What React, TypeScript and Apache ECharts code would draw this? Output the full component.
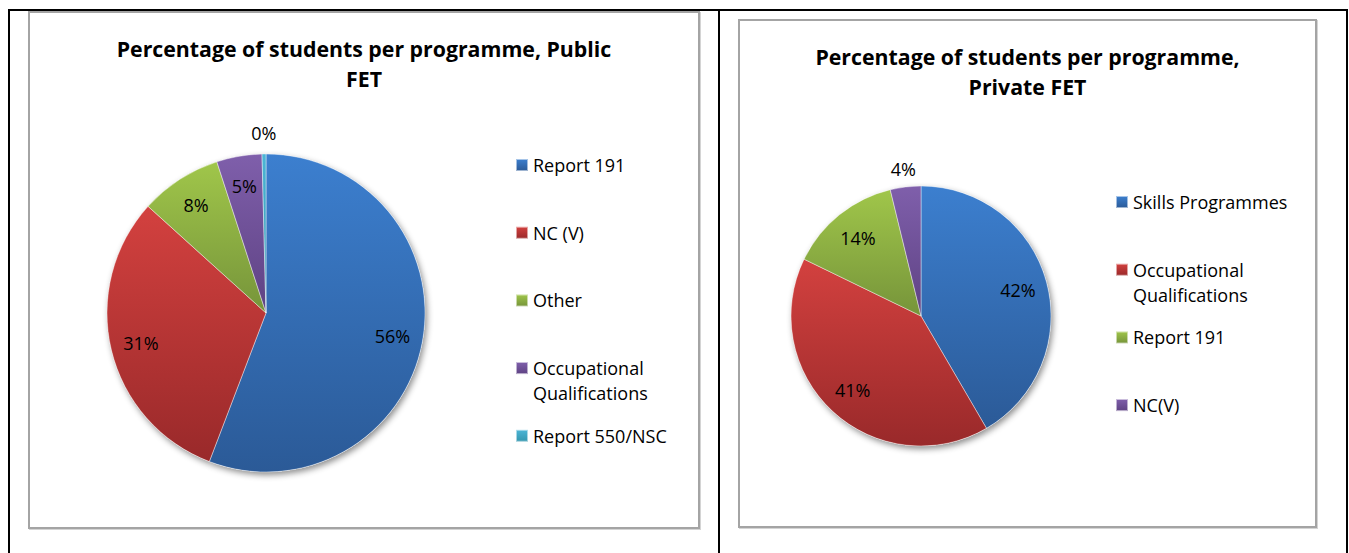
import { useEffect, useRef } from 'react';
import * as echarts from 'echarts';

// ---------- data ----------
const publicTitle = 'Percentage of students per programme, Public\nFET';
const publicCategories = ['Report 191', 'NC (V)', 'Other', 'Occupational\nQualifications', 'Report 550/NSC'];
const publicValues = [55.8, 30.9, 8.3, 4.6, 0.4];
const publicLabelOutside = [false, false, false, false, true];

const privateTitle = 'Percentage of students per programme,\nPrivate FET';
const privateCategories = ['Skills Programmes', 'Occupational\nQualifications', 'Report 191', 'NC(V)'];
const privateValues = [41.6, 40.6, 14.0, 3.8];
const privateLabelOutside = [false, false, false, true];

// ---------- styles ----------
const gradientPairs: [string, string][] = [
  ['#3C7FCF', '#2B5A97'],
  ['#D3413F', '#99292A'],
  ['#A0C64A', '#76943A'],
  ['#7F5FAB', '#5E4283'],
  ['#4CB5D6', '#3396AE'],
];
const FONT = '"Open Sans", Lato, sans-serif';
const LEGEND_LINE = 25;

type Cfg = {
  title: string;
  names: string[];
  values: number[];
  outside: boolean[];
  center: [number, number];
  radius: number;
  innerRatio: number;
  outerRatio: number;
  legendLeft: number;
  legendFirstCenter: number;
  legendSlot: number;
};

function grad(i: number) {
  const [a, b] = gradientPairs[i % gradientPairs.length];
  return new echarts.graphic.LinearGradient(0, 0, 0, 1, [
    { offset: 0, color: a },
    { offset: 1, color: b },
  ]);
}

function buildOption(c: Cfg): any {
  const fmt = (p: any) => Math.round(p.value) + '%';
  const labelText = { fontFamily: FONT, fontSize: 18, color: '#000' };
  const base = {
    type: 'pie',
    center: c.center,
    startAngle: 90,
    clockwise: true,
    avoidLabelOverlap: false,
    labelLine: { show: false },
    emphasis: { disabled: true },
  };
  // one legend block per entry; a wrapped entry gets blank lines in front so that
  // its marker (centred on the text block) sits beside its first line
  const legends = c.names.map((n, i) => {
    const lines = n.split('\n').length;
    const boxH = (2 * lines - 1) * LEGEND_LINE;
    return {
      orient: 'vertical',
      left: c.legendLeft,
      top: c.legendFirstCenter + i * c.legendSlot - boxH / 2,
      padding: 0,
      itemWidth: 12,
      itemHeight: 12,
      icon: 'rect',
      selectedMode: false,
      data: [{ name: n }],
      formatter: (name: string) => '\n'.repeat(name.split('\n').length - 1) + name,
      textStyle: {
        fontFamily: FONT,
        fontSize: 18,
        color: '#000',
        lineHeight: LEGEND_LINE,
      },
    };
  });
  return {
    animation: false,
    title: {
      text: c.title,
      left: 'center',
      top: 22,
      padding: 0,
      textStyle: { fontFamily: FONT, fontSize: 21.3, fontWeight: 'bold', color: '#000', lineHeight: 30 },
    },
    legend: legends,
    series: [
      {
        ...base,
        name: 'main',
        z: 2,
        radius: c.radius,
        label: { show: false },
        data: c.names.map((n, i) => ({
          name: n,
          value: c.values[i],
          itemStyle: { color: grad(i), borderColor: 'rgba(255,255,255,0.55)', borderWidth: 0.75 },
        })),
      },
      {
        ...base,
        name: 'shadow',
        z: 1,
        silent: true,
        radius: c.radius,
        label: { show: false },
        itemStyle: {
          color: '#ffffff',
          shadowBlur: 6,
          shadowOffsetX: 2,
          shadowOffsetY: 3,
          shadowColor: 'rgba(0,0,0,0.45)',
        },
        data: c.names.map((n, i) => ({ name: n, value: c.values[i] })),
      },
      {
        ...base,
        name: 'labelsInner',
        z: 3,
        silent: true,
        radius: c.radius * 2 * c.innerRatio,
        itemStyle: { color: 'rgba(0,0,0,0)' },
        label: { position: 'inside', formatter: fmt, ...labelText },
        data: c.names.map((n, i) => ({ name: n, value: c.values[i], label: { show: !c.outside[i] } })),
      },
      {
        ...base,
        name: 'labelsOuter',
        z: 3,
        silent: true,
        radius: c.radius * 2 * c.outerRatio,
        itemStyle: { color: 'rgba(0,0,0,0)' },
        label: { position: 'inside', formatter: fmt, ...labelText },
        data: c.names.map((n, i) => ({ name: n, value: c.values[i], label: { show: c.outside[i] } })),
      },
    ],
  };
}

function PieChart({ cfg, style }: { cfg: Cfg; style: React.CSSProperties }) {
  const ref = useRef<HTMLDivElement>(null);
  useEffect(() => {
    if (!ref.current) return;
    const chart = echarts.init(ref.current, undefined, { renderer: 'svg' });
    chart.setOption(buildOption(cfg));
    return () => chart.dispose();
  }, [cfg]);
  return <div ref={ref} style={{ position: 'absolute', ...style }} />;
}

const publicCfg: Cfg = {
  title: publicTitle,
  names: publicCategories,
  values: publicValues,
  outside: publicLabelOutside,
  center: [238, 302],
  radius: 159,
  innerRatio: 0.79,
  outerRatio: 1.113,
  legendLeft: 487,
  legendFirstCenter: 154,
  legendSlot: 67.7,
};

const privateCfg: Cfg = {
  title: privateTitle,
  names: privateCategories,
  values: privateValues,
  outside: privateLabelOutside,
  center: [183, 297],
  radius: 130,
  innerRatio: 0.75,
  outerRatio: 1.115,
  legendLeft: 377,
  legendFirstCenter: 183,
  legendSlot: 67.7,
};

const line = (l: number, t: number, w: number, h: number): React.CSSProperties => ({
  position: 'absolute',
  left: l,
  top: t,
  width: w,
  height: h,
  background: '#000',
});

const grayBox = (l: number, t: number, w: number, h: number): React.CSSProperties => ({
  position: 'absolute',
  left: l,
  top: t,
  width: w,
  height: h,
  boxSizing: 'border-box',
  border: '2px solid #a4a4a4',
  boxShadow: '1px 1px 0 #d4d4d4',
  pointerEvents: 'none',
});

export default function App() {
  return (
    <div style={{ position: 'absolute', left: 0, top: 0, width: 1349, height: 553, background: '#fff', overflow: 'hidden' }}>
      <PieChart cfg={publicCfg} style={{ left: 28, top: 11, width: 672, height: 518 }} />
      <PieChart cfg={privateCfg} style={{ left: 738, top: 19, width: 579, height: 509 }} />
      <div style={grayBox(28, 11, 672, 518)} />
      <div style={grayBox(738, 19, 579, 509)} />
      <div style={line(8, 9, 1340, 2)} />
      <div style={line(8, 9, 2, 544)} />
      <div style={line(718, 9, 2, 544)} />
      <div style={line(1346, 9, 2, 544)} />
    </div>
  );
}
